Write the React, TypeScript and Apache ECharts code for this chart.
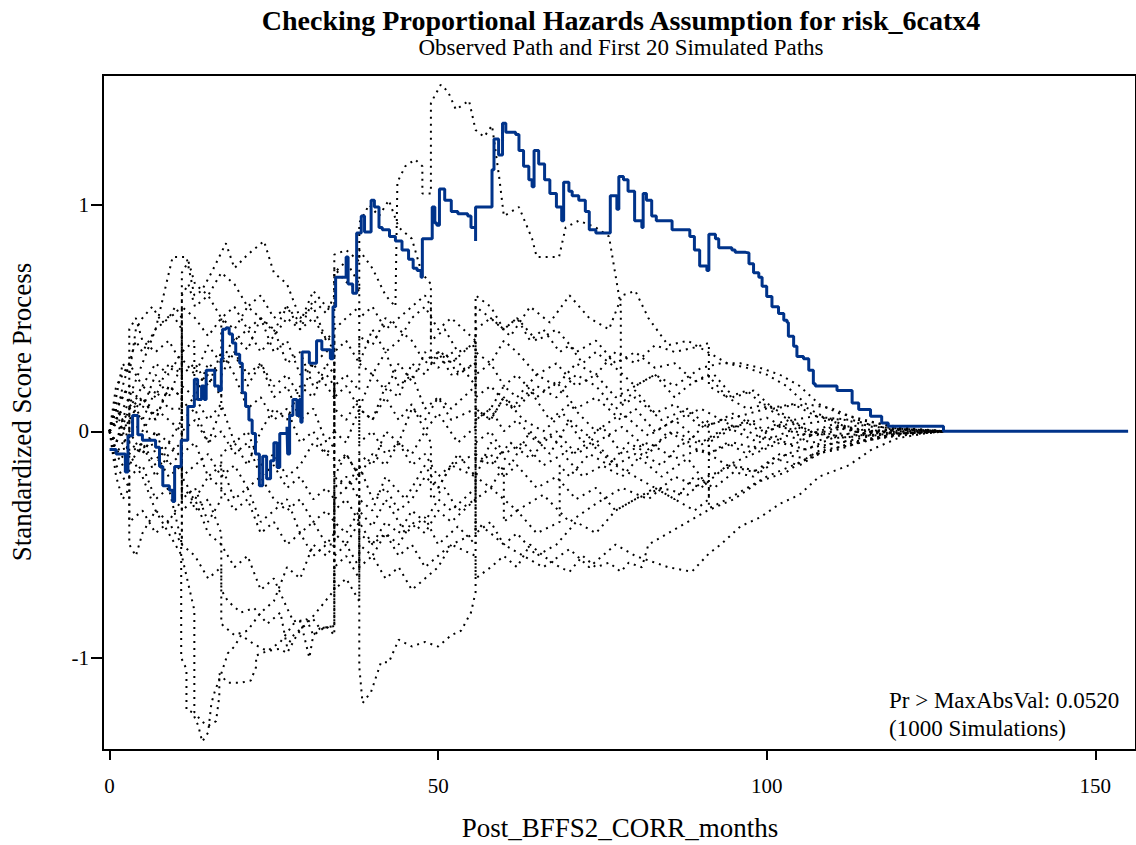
import React, { useEffect, useRef } from 'react';
import * as echarts from 'echarts';

const titleText = 'Checking Proportional Hazards Assumption for risk_6catx4';
const subtitleText = 'Observed Path and First 20 Simulated Paths';
const xAxisTitle = 'Post_BFFS2_CORR_months';
const yAxisTitle = 'Standardized Score Process';
const noteLines = ['Pr > MaxAbsVal: 0.0520', '(1000 Simulations)'];
const xTicks = [0, 50, 100, 150];
const yTicks = [-1, 0, 1];

type Pt = [number, number];

const observedPath: Pt[] = [
  [0, -0.08], [1, -0.08], [1, -0.1], [2.4, -0.1], [2.4, -0.18], [2.8, -0.02], [3.5, 0.07], [4.3, -0.015],
  [5, -0.04], [7, -0.07], [7.6, -0.155], [8.1, -0.24], [9.1, -0.26], [9.6, -0.31], [9.9, -0.155],
  [10.9, -0.04], [11.9, -0.04], [11.9, 0.11], [12.9, 0.11], [12.9, 0.23], [13.4, 0.14], [14, 0.2],
  [14.4, 0.14], [14.7, 0.27], [15.5, 0.27], [16, 0.2], [16.6, 0.18], [17, 0.32], [17.2, 0.45],
  [17.7, 0.456], [18.2, 0.43], [18.7, 0.39], [19.2, 0.34], [19.8, 0.3], [20.2, 0.17], [20.7, 0.11],
  [21.2, 0.05], [21.7, -0.01], [22.2, -0.1], [22.8, -0.24], [23.3, -0.11], [23.9, -0.21], [24.5, -0.13],
  [25, -0.05], [25.5, -0.16], [25.9, -0.01], [26.4, -0.01], [27, 0.02], [27.1, -0.1], [27.4, 0.07],
  [27.9, 0.14], [28.5, 0.07], [28.9, 0.14], [29.1, 0.04], [29.3, 0.35], [29.9, 0.35], [30.4, 0.3],
  [31.5, 0.4], [32.3, 0.36], [33.2, 0.36], [33.6, 0.32], [34, 0.55], [34.4, 0.68], [35, 0.68],
  [36, 0.77], [36.3, 0.65], [37, 0.61], [37.6, 0.875], [38.3, 0.95], [38.8, 0.88], [39.8, 1.02],
  [40.3, 0.99], [41, 0.9], [41.5, 0.89], [42.6, 0.86], [43.5, 0.84], [44.5, 0.8], [45.5, 0.76],
  [46.2, 0.72], [46.8, 0.71], [47.4, 0.68], [47.6, 0.85], [48.9, 0.85], [49.1, 0.99], [49.5, 0.92],
  [49.8, 0.91], [50.2, 1.07], [51, 1.02], [52, 0.97], [53, 0.96], [54.5, 0.95], [55, 0.9], [55.7, 0.84],
  [55.7, 0.99], [57.9, 0.99], [58.2, 1.155], [58.5, 1.29], [59.2, 1.22], [59.8, 1.36], [60.3, 1.32],
  [61.8, 1.31], [62.3, 1.24], [63, 1.17], [63.8, 1.11], [64.3, 1.08], [64.6, 1.24], [65.3, 1.18],
  [66.2, 1.11], [67, 1.05], [68, 0.99], [68.8, 0.93], [69.1, 1.1], [69.9, 1.06], [70.4, 1.04],
  [71.4, 1.02], [72.4, 0.97], [73, 0.89], [74, 0.875], [76, 0.875], [76.2, 1.04], [76.9, 1.04],
  [77.2, 0.98], [77.5, 1.125], [78.2, 1.11], [78.9, 1.06], [79.9, 0.93], [81, 0.9], [81.2, 1.05],
  [81.7, 1.02], [82.5, 0.95], [83.2, 0.93], [85, 0.93], [85.6, 0.89], [87.8, 0.89], [88.3, 0.86],
  [89, 0.8], [89.8, 0.73], [90.9, 0.71], [91.2, 0.87], [92.2, 0.85], [92.7, 0.81], [94.7, 0.8],
  [95.2, 0.79], [96.8, 0.787], [97.3, 0.74], [98, 0.7], [98.8, 0.68], [99.3, 0.64], [100, 0.595],
  [100.8, 0.55], [101.8, 0.52], [102.6, 0.49], [103.1, 0.48], [103.3, 0.42], [104.1, 0.375],
  [104.6, 0.33], [105.6, 0.32], [106.4, 0.27], [107.1, 0.21], [107.4, 0.2], [110.4, 0.2], [110.7, 0.18],
  [112.7, 0.18], [113, 0.125], [114, 0.096], [115.5, 0.096], [115.8, 0.066], [117.3, 0.066],
  [117.5, 0.037], [118.5, 0.022], [126.6, 0.022], [126.9, 0], [155, 0],
];

const sim01: Pt[] = [[0,0],[1.5,0.08],[3,-0.05],[3,0.12],[5,0.05],[7,0.18],[9,0.1],[11,0.1],[11,0.32],[13,0.25],[15,0.38],[17,0.3],[19,0.42],[21,0.36],[23,0.5],[25,0.44],[27,0.55],[29,0.48],[31,0.62],[33,0.55],[34.2,0.55],[34.2,0.72],[36,0.66],[38,0.62],[38,0.8],[40,0.72],[42,0.6],[43.5,0.55],[43.8,1.1],[45,1.17],[46.5,1.2],[47.6,1.17],[47.6,1.05],[48.9,1.05],[48.9,1.45],[50.4,1.53],[51.5,1.5],[52.7,1.42],[54.7,1.46],[55.7,1.33],[57,1.3],[58.2,1.35],[59.3,1.12],[60,0.95],[62.3,0.99],[64.3,0.85],[65,0.77],[68.4,0.77],[69.4,0.9],[71.4,0.93],[74,0.9],[76,0.86],[77.8,0.55],[77.8,0.12],[80,0.18],[83,0.08],[86,0.12],[90,0.02],[95,0.06],[100,0.1],[105,0.03],[110,0.05],[115,-0.02],[120,0.01],[125,0.005],[127,0]];
const sim02: Pt[] = [[0,0],[1,-0.05],[3,0.15],[5,0.3],[7,0.45],[9.6,0.77],[11.7,0.77],[12.9,0.6],[14,0.62],[15.5,0.7],[17.7,0.83],[19,0.72],[21,0.78],[23.5,0.84],[25,0.7],[27,0.65],[29,0.5],[31,0.55],[33,0.4],[34.2,0.42],[34.2,0.15],[36,0.2],[38,0.1],[40,0.25],[42,0.18],[44,0.3],[46,0.22],[48,0.35],[50,0.28],[52,0.35],[55.7,0.2],[55.7,0.45],[58,0.5],[61,0.42],[64,0.55],[67,0.48],[70,0.6],[73,0.5],[76,0.45],[78,0.6],[80,0.62],[82,0.5],[85,0.38],[88,0.4],[91,0.35],[94,0.3],[97,0.28],[100,0.25],[103,0.2],[106,0.12],[110,0.1],[114,0.05],[118,0.03],[122,0.01],[127,0]];
const sim03: Pt[] = [[0,0],[1,-0.1],[2,-0.05],[3,-0.2],[5,-0.15],[7,-0.3],[9,-0.25],[10.9,-0.48],[10.9,-1.0],[11.7,-1.05],[11.7,-1.23],[12.6,-1.24],[13.5,-1.3],[14.1,-1.37],[15,-1.33],[15.5,-1.2],[16,-1.15],[17,-1.07],[18,-0.98],[19,-0.95],[20,-0.9],[22,-0.94],[24,-0.97],[26,-0.93],[28,-0.85],[30,-0.83],[31,-0.9],[33,-0.86],[34.2,-0.9],[34.2,-0.55],[36,-0.5],[38,-0.6],[38,-0.3],[40,-0.35],[42,-0.2],[45,-0.3],[48,-0.15],[50,-0.25],[53,-0.1],[55.7,-0.2],[58,-0.05],[61,-0.15],[64,0.0],[67,-0.1],[70,0.05],[74,-0.05],[78,0.02],[82,-0.08],[86,0.0],[90,-0.06],[95,0.03],[100,-0.04],[105,0.02],[110,-0.03],[115,0.01],[120,-0.01],[127,0]];
const sim04: Pt[] = [[0,0],[1.5,0.05],[3,-0.1],[5,-0.2],[7,-0.35],[9,-0.45],[11,-0.55],[12.9,-0.79],[12.9,-1.24],[14,-1.28],[15,-1.3],[16.2,-1.28],[16.7,-1.17],[16.7,-1.07],[18,-1.11],[20,-1.11],[21.5,-1.1],[22.3,-1.04],[22.3,-0.99],[24,-0.97],[26,-0.96],[27,-0.98],[28.5,-0.9],[30,-0.84],[31,-0.83],[32,-0.87],[34.2,-0.86],[34.2,-0.4],[36,-0.45],[38,-0.35],[40,-0.42],[42,-0.3],[45,-0.45],[48,-0.38],[50,-0.5],[53,-0.42],[55.7,-0.5],[55.7,-0.3],[58,-0.25],[62,-0.35],[66,-0.28],[70,-0.4],[74,-0.32],[78,-0.25],[82,-0.3],[86,-0.2],[90,-0.25],[94,-0.15],[98,-0.18],[102,-0.1],[106,-0.12],[110,-0.05],[115,-0.04],[120,-0.01],[127,0]];
const sim05: Pt[] = [[0,0],[1,0.1],[3,0.05],[5,0.15],[7,0.05],[9,0.2],[11,0.15],[11,-0.1],[13,-0.05],[15,-0.2],[17,-0.15],[19,-0.3],[21,-0.25],[23,-0.4],[25,-0.35],[27,-0.3],[29,-0.45],[31,-0.4],[33,-0.5],[34.2,-0.5],[34.2,-0.25],[36,-0.2],[38,-0.3],[38,-1.04],[38.5,-1.2],[39.8,-1.15],[41.3,-1.02],[42.5,-1.02],[44,-0.92],[46,-0.95],[48,-0.93],[50,-0.95],[52,-0.9],[53.5,-0.88],[55,-0.8],[55.7,-0.71],[55.7,-0.4],[58,-0.45],[60,-0.5],[63,-0.55],[66,-0.6],[70,-0.52],[73,-0.6],[77,-0.5],[80,-0.55],[83,-0.58],[85,-0.6],[88.6,-0.62],[91.2,-0.54],[93,-0.5],[96,-0.42],[99,-0.38],[102,-0.32],[105,-0.28],[108,-0.2],[112.5,-0.15],[116,-0.08],[120,-0.03],[124,-0.01],[127,0]];
const sim06: Pt[] = [[0,0],[1,-0.05],[3,0.1],[5,0.2],[7,0.15],[9,0.3],[11,0.25],[11,0.55],[13,0.5],[15,0.42],[17,0.5],[19,0.4],[21,0.45],[23,0.35],[25,0.42],[27,0.5],[29,0.45],[31,0.58],[33,0.52],[34.2,0.6],[34.2,0.78],[36,0.8],[38,0.75],[38,0.92],[39.5,1.0],[41,0.95],[42.5,1.02],[44,0.9],[46,0.85],[47.5,0.7],[48.9,0.65],[48.9,0.4],[51,0.45],[53,0.35],[55.7,0.38],[55.7,0.15],[58,0.2],[61,0.1],[64,0.18],[67,0.05],[70,0.12],[74,0.0],[78,0.08],[82,-0.02],[86,0.05],[90,0.1],[95,0.02],[100,0.06],[105,-0.02],[110,0.03],[115,0.0],[120,0.01],[127,0]];
const sim07: Pt[] = [[0,0],[1,0.1],[3,0.2],[5,0.1],[7,0.25],[9,0.15],[11,0.3],[11,0.05],[13,0.1],[15,-0.05],[17,0.0],[19,-0.1],[21,-0.05],[23,-0.2],[25,-0.15],[27,-0.25],[29,-0.2],[31,-0.3],[33,-0.25],[34.2,-0.3],[34.2,-0.45],[36,-0.5],[38,-0.4],[40,-0.5],[42,-0.45],[44,-0.55],[46,-0.5],[48,-0.6],[50,-0.55],[52,-0.5],[55.7,-0.55],[55.7,-0.65],[58,-0.6],[60,-0.55],[62,-0.6],[64,-0.5],[66,-0.55],[68.5,-0.6],[70,-0.62],[72,-0.55],[74,-0.6],[76,-0.58],[77.8,-0.62],[79,-0.58],[81,-0.6],[82,-0.5],[85,-0.45],[88,-0.4],[91,-0.35],[95,-0.3],[99,-0.22],[103,-0.18],[107,-0.1],[111,-0.08],[115,-0.04],[120,-0.02],[127,0]];
const sim08: Pt[] = [[0,0],[1,-0.15],[3,-0.25],[3,0.1],[5,0.15],[7,0.05],[9,0.2],[11,0.15],[11,-0.3],[13,-0.25],[15,-0.4],[17,-0.3],[17,-0.1],[19,-0.05],[21,-0.15],[23,0.0],[25,0.1],[27,0.05],[29,0.2],[31,0.15],[33,0.3],[34.2,0.25],[34.2,0.0],[36,-0.05],[38,0.1],[40,0.05],[42,0.2],[44,0.15],[46,0.3],[48,0.25],[50,0.35],[52,0.3],[55.7,0.4],[55.7,0.6],[58,0.55],[60,0.45],[62,0.5],[64,0.4],[66,0.45],[68.5,0.35],[70,0.38],[72,0.3],[74,0.35],[77,0.28],[80,0.2],[83,0.25],[86,0.15],[88,0.2],[91,0.25],[94,0.15],[97,0.1],[100,0.12],[104,0.05],[108,0.07],[112,0.02],[116,0.03],[120,0.0],[127,0]];
const sim09: Pt[] = [[0,0],[1,0.05],[2,0.2],[3,0.3],[4,0.4],[5,0.35],[7,0.45],[9,0.5],[10,0.55],[11,0.5],[11,0.1],[13,0.15],[15,0.05],[17,0.12],[19,-0.05],[21,0.0],[23,-0.15],[25,-0.1],[27,-0.2],[29,-0.15],[31,-0.05],[33,-0.1],[34.2,-0.12],[34.2,0.2],[36,0.25],[38,0.18],[38,0.42],[40,0.38],[42,0.5],[44,0.45],[46,0.4],[48,0.3],[50,0.35],[52,0.25],[55.7,0.3],[55.7,0.05],[58,0.1],[60,0.2],[62,0.15],[65,0.25],[68,0.2],[71,0.3],[74,0.25],[77,0.35],[80,0.3],[83,0.38],[86,0.35],[89,0.37],[91.2,0.39],[91.2,0.2],[94,0.15],[97,0.18],[100,0.1],[104,0.12],[108,0.06],[112,0.05],[116,0.02],[121,0.01],[127,0]];
const sim10: Pt[] = [[0,0],[1,-0.1],[3,-0.2],[3,-0.4],[5,-0.35],[7,-0.45],[9,-0.4],[11,-0.5],[11,-0.25],[13,-0.3],[15,-0.45],[17,-0.5],[19,-0.6],[21,-0.55],[23,-0.7],[25,-0.65],[27,-0.78],[28,-0.84],[29,-0.83],[30.4,-1.0],[31,-0.9],[32,-0.87],[34.2,-0.86],[34.2,-0.6],[36,-0.55],[38,-0.65],[38,-0.45],[40,-0.5],[42,-0.4],[44,-0.45],[46,-0.35],[48,-0.4],[50,-0.3],[52,-0.35],[55.7,-0.25],[55.7,-0.1],[58,-0.15],[61,-0.05],[64,-0.12],[67,-0.02],[70,-0.1],[73,-0.05],[77,-0.15],[80,-0.1],[84,-0.2],[88,-0.12],[91.2,-0.25],[91.2,-0.34],[94,-0.3],[97,-0.25],[100,-0.2],[104,-0.15],[108,-0.1],[112,-0.06],[116,-0.03],[120,-0.01],[127,0]];
const sim11: Pt[] = [[0,0],[1,0.15],[2,0.3],[3,0.25],[4,0.45],[5,0.5],[6.5,0.55],[8,0.48],[9.5,0.52],[11,0.45],[11,-0.2],[12,-0.25],[13,-0.35],[15,-0.3],[17,-0.45],[17,-0.7],[18,-0.75],[20,-0.8],[22,-0.78],[24,-0.85],[26,-0.8],[27,-0.95],[28,-0.9],[30,-0.85],[32,-0.78],[34.2,-0.7],[34.2,-0.3],[36,-0.25],[38,-0.2],[38,0.1],[40,0.05],[42,0.15],[44,0.05],[46,0.12],[48,0.0],[50,0.08],[53,-0.05],[55.7,0.02],[55.7,0.25],[58,0.3],[60,0.2],[62,0.25],[65,0.15],[68,0.22],[71,0.1],[74,0.15],[77.8,0.05],[80,0.1],[83,0.0],[86,0.05],[90,-0.05],[94,0.02],[98,-0.04],[102,0.03],[106,-0.02],[110,0.02],[115,-0.01],[120,0.005],[127,0]];
const sim12: Pt[] = [[0,0],[1,0.1],[3,0.0],[5,-0.1],[7,0.0],[9,-0.15],[11,-0.1],[11,0.35],[12.9,0.4],[12.9,0.2],[15,0.25],[17,0.15],[17,0.5],[19,0.45],[21,0.55],[23,0.5],[25,0.45],[27,0.3],[29,0.35],[31,0.2],[33,0.25],[34.2,0.2],[34.2,-0.2],[36,-0.25],[38,-0.15],[40,-0.3],[42,-0.25],[44,-0.35],[46,-0.3],[48,-0.2],[50,-0.25],[52,-0.15],[55.7,-0.2],[55.7,-0.45],[58,-0.4],[60,-0.5],[62,-0.45],[65,-0.55],[68,-0.5],[71,-0.4],[74,-0.45],[77,-0.35],[80,-0.3],[84,-0.25],[88,-0.28],[91,-0.2],[95,-0.15],[99,-0.18],[103,-0.1],[107,-0.07],[111,-0.05],[116,-0.02],[120,-0.01],[127,0]];
const sim13: Pt[] = [[0,0],[1,-0.08],[3,-0.15],[5,-0.05],[7,-0.2],[9,-0.1],[11,-0.05],[11,0.2],[13,0.15],[15,0.3],[17,0.25],[19,0.35],[21,0.2],[23,0.3],[25,0.15],[27,0.2],[29,0.05],[31,0.1],[33,-0.05],[34.2,0.0],[34.2,0.35],[36,0.4],[38,0.3],[40,0.45],[42,0.35],[44,0.4],[46,0.5],[48,0.55],[50,0.45],[52,0.5],[55.7,0.4],[55.7,0.1],[58,0.05],[60,0.15],[63,0.05],[66,0.0],[69,0.08],[72,-0.05],[75,0.02],[78,-0.1],[82,-0.05],[86,-0.12],[90,-0.08],[94,-0.15],[98,-0.1],[102,-0.05],[106,-0.08],[110,-0.03],[115,-0.02],[120,0.0],[127,0]];
const sim14: Pt[] = [[0,0],[1,0.05],[3,-0.1],[5,-0.05],[7,-0.15],[9,-0.05],[11,-0.12],[11,-0.35],[13,-0.3],[15,-0.2],[17,-0.25],[19,-0.35],[21,-0.3],[23,-0.45],[25,-0.4],[27,-0.5],[29,-0.45],[31,-0.55],[33,-0.5],[34.2,-0.45],[34.2,-0.15],[36,-0.1],[38,-0.2],[38,-0.6],[40,-0.55],[42,-0.65],[44,-0.6],[46,-0.7],[48,-0.65],[50,-0.6],[52,-0.5],[55.7,-0.45],[55.7,-0.2],[58,-0.25],[60,-0.15],[60,-0.4],[62,-0.35],[65,-0.45],[68.5,-0.4],[68.5,-0.15],[70,-0.2],[73,-0.1],[76,-0.15],[79,-0.05],[82,-0.1],[85,0.0],[88,-0.05],[91.2,0.05],[91.2,-0.1],[94,-0.05],[97,-0.1],[100,-0.02],[104,-0.06],[108,0.0],[112,-0.03],[116,0.0],[120,-0.01],[127,0]];
const sim15: Pt[] = [[0,0],[1,0.12],[3,0.2],[3,-0.05],[5,-0.1],[7,0.0],[9,-0.05],[11,0.05],[11,0.25],[13,0.3],[15,0.2],[17,0.35],[19,0.25],[21,0.1],[23,0.15],[25,0.05],[27,0.1],[29,-0.05],[31,0.0],[33,-0.1],[34.2,-0.05],[34.2,-0.35],[36,-0.3],[38,-0.4],[38,-0.1],[40,-0.15],[42,0.0],[44,-0.05],[46,0.1],[48,0.05],[50,0.15],[52,0.1],[55.7,0.2],[55.7,0.35],[58,0.3],[60,0.4],[62,0.35],[65,0.25],[68,0.3],[71,0.2],[74,0.25],[77,0.15],[80,0.2],[83,0.25],[86,0.2],[90,0.28],[93,0.3],[96,0.3],[99,0.28],[102,0.25],[105,0.2],[108,0.12],[111,0.08],[115,0.05],[119,0.02],[123,0.01],[127,0]];
const sim16: Pt[] = [[0,0],[1,-0.2],[2,-0.3],[3,-0.25],[3,-0.5],[4,-0.55],[5,-0.45],[7,-0.35],[9,-0.4],[11,-0.3],[11,0.0],[13,0.05],[15,-0.05],[17,0.1],[17,0.3],[19,0.35],[21,0.25],[23,0.3],[25,0.2],[27,0.25],[29,0.15],[31,0.3],[33,0.35],[34.2,0.4],[34.2,0.1],[36,0.05],[38,0.15],[38,-0.05],[40,0.0],[42,-0.1],[44,-0.05],[46,-0.15],[48,-0.1],[50,-0.2],[52,-0.15],[55.7,-0.1],[55.7,0.1],[58,0.05],[60,0.15],[62,0.1],[65,0.2],[68,0.15],[71,0.25],[74,0.2],[77,0.1],[80,0.15],[84,0.05],[88,0.1],[91,0.02],[95,0.08],[99,0.0],[103,0.05],[107,-0.02],[111,0.02],[115,-0.01],[120,0.01],[127,0]];
const sim17: Pt[] = [[0,0],[1,0.05],[3,0.15],[5,0.05],[7,-0.1],[9,-0.2],[11,-0.15],[11,-0.5],[13,-0.55],[15,-0.65],[17,-0.6],[17,-0.85],[19,-0.9],[21,-0.88],[23,-0.8],[25,-0.75],[27,-0.6],[29,-0.65],[31,-0.5],[33,-0.55],[34.2,-0.5],[34.2,-0.2],[36,-0.1],[38,-0.2],[40,-0.1],[42,-0.15],[44,-0.05],[46,-0.1],[48,0.0],[48.9,-0.05],[48.9,-0.3],[51,-0.25],[53,-0.35],[55.7,-0.3],[55.7,-0.05],[58,0.0],[60,-0.1],[63,-0.05],[66,-0.15],[69,-0.1],[72,-0.2],[75,-0.15],[78,-0.2],[81,-0.1],[84,-0.15],[87,-0.05],[91,-0.1],[95,-0.05],[99,-0.08],[103,-0.02],[107,-0.05],[111,-0.01],[116,-0.02],[121,0.0],[127,0]];
const sim18: Pt[] = [[0,0],[1,0.2],[2,0.25],[3,0.3],[5,0.2],[7,0.3],[9,0.25],[11,0.35],[11,0.6],[12,0.65],[13,0.55],[15,0.6],[17,0.5],[19,0.55],[21,0.45],[23,0.5],[25,0.35],[27,0.4],[29,0.25],[31,0.3],[33,0.2],[34.2,0.15],[34.2,0.45],[36,0.5],[38,0.55],[38,0.3],[40,0.25],[42,0.35],[44,0.2],[46,0.25],[48,0.1],[50,0.15],[52,0.05],[55.7,0.1],[55.7,-0.15],[58,-0.1],[60,-0.2],[62,-0.15],[65,-0.25],[68,-0.2],[71,-0.3],[74,-0.25],[77,-0.35],[80,-0.3],[83,-0.25],[86,-0.3],[89,-0.2],[92,-0.25],[95,-0.18],[98,-0.2],[101,-0.12],[105,-0.15],[109,-0.08],[113,-0.06],[117,-0.03],[121,-0.01],[127,0]];
const sim19: Pt[] = [[0,0],[1,-0.05],[3,0.05],[5,0.0],[7,0.1],[9,0.05],[11,0.0],[11,-0.2],[13,-0.15],[15,-0.1],[17,-0.2],[19,-0.15],[21,-0.25],[23,-0.2],[25,-0.3],[27,-0.35],[29,-0.3],[31,-0.4],[33,-0.35],[34.2,-0.4],[34.2,-0.7],[36,-0.65],[38,-0.75],[38,-0.5],[40,-0.55],[42,-0.45],[44,-0.5],[46,-0.4],[48,-0.45],[50,-0.35],[52,-0.4],[55.7,-0.3],[55.7,0.05],[58,0.1],[60,0.0],[62,0.05],[65,-0.05],[68,0.0],[71,-0.1],[74,-0.05],[77,-0.15],[80,-0.2],[83,-0.25],[86,-0.3],[89,-0.35],[91.2,-0.3],[91.2,-0.05],[94,0.0],[97,0.05],[100,0.0],[104,0.04],[108,-0.02],[112,0.02],[116,0.0],[120,0.01],[127,0]];
const sim20: Pt[] = [[0,0],[1,0.1],[3,0.2],[3,0.45],[4,0.5],[5,0.4],[7,0.35],[9,0.4],[11,0.3],[11,0.7],[12,0.75],[13,0.65],[15,0.6],[17,0.7],[19,0.65],[21,0.55],[23,0.6],[25,0.5],[27,0.55],[29,0.45],[31,0.5],[33,0.4],[34.2,0.45],[34.2,0.7],[36,0.75],[38,0.65],[38,0.5],[40,0.55],[42,0.45],[44,0.5],[46,0.55],[48,0.6],[48.9,0.55],[48.9,0.3],[51,0.35],[53,0.25],[55.7,0.3],[55.7,0.55],[58,0.5],[60,0.45],[62,0.5],[65,0.4],[68,0.45],[71,0.35],[74,0.4],[77,0.3],[80,0.35],[83,0.28],[86,0.3],[89,0.22],[92,0.25],[95,0.15],[98,0.18],[101,0.1],[105,0.12],[109,0.06],[113,0.05],[117,0.02],[121,0.01],[127,0]];

const simulatedPaths: Pt[][] = [
  sim01, sim02, sim03, sim04, sim05, sim06, sim07, sim08, sim09, sim10,
  sim11, sim12, sim13, sim14, sim15, sim16, sim17, sim18, sim19, sim20,
];

const FONT = '"Liberation Serif", "Times New Roman", Times, serif';

export default function App() {
  const ref = useRef<HTMLDivElement>(null);

  useEffect(() => {
    if (!ref.current) return;
    const chart = echarts.init(ref.current, undefined, { renderer: 'svg' });

    const simSeries = simulatedPaths.map((path, i) => ({
      name: 'sim' + (i + 1),
      type: 'line',
      data: path,
      showSymbol: false,
      symbol: 'none',
      silent: true,
      clip: true,
      z: 2,
      lineStyle: { color: '#000', width: 2, type: [2, 5], cap: 'butt' },
    }));

    const option: any = {
      animation: false,
      backgroundColor: '#fff',
      grid: {
        left: 103, top: 75, width: 1035, height: 675,
        show: true, borderColor: '#000', borderWidth: 2, backgroundColor: 'transparent',
      },
      xAxis: {
        type: 'value', min: -1, max: 156.2,
        splitLine: { show: false },
        axisLine: { show: true, onZero: false, lineStyle: { color: '#000', width: 2 } },
        axisTick: { show: true, length: 10, lineStyle: { color: '#000', width: 2 }, customValues: xTicks },
        axisLabel: { customValues: xTicks, margin: 25, fontFamily: FONT, fontSize: 21, color: '#000' },
      },
      yAxis: {
        type: 'value', min: -1.407, max: 1.573,
        splitLine: { show: false },
        axisLine: { show: true, onZero: false, lineStyle: { color: '#000', width: 2 } },
        axisTick: { show: true, length: 12, lineStyle: { color: '#000', width: 2 }, customValues: yTicks },
        axisLabel: { customValues: yTicks, margin: 14, fontFamily: FONT, fontSize: 21, color: '#000' },
      },
      series: [
        ...simSeries,
        {
          name: 'observed', type: 'line', data: observedPath, step: 'end',
          showSymbol: false, symbol: 'none', silent: true, z: 5,
          lineStyle: { color: '#00338a', width: 3 },
        },
      ],
      graphic: [
        { type: 'text', x: 621, y: 20.5, style: { text: titleText, font: `bold 28px ${FONT}`, fill: '#000', textAlign: 'center', textVerticalAlign: 'middle', align: 'center', verticalAlign: 'middle' } },
        { type: 'text', x: 621, y: 47.5, style: { text: subtitleText, font: `23px ${FONT}`, fill: '#000', textAlign: 'center', textVerticalAlign: 'middle', align: 'center', verticalAlign: 'middle' } },
        { type: 'text', x: 620, y: 828, style: { text: xAxisTitle, font: `27px ${FONT}`, fill: '#000', textAlign: 'center', textVerticalAlign: 'middle', align: 'center', verticalAlign: 'middle' } },
        { type: 'text', x: 22, y: 412, rotation: Math.PI / 2, style: { text: yAxisTitle, font: `27px ${FONT}`, fill: '#000', textAlign: 'center', textVerticalAlign: 'middle', align: 'center', verticalAlign: 'middle' } },
        { type: 'text', x: 889, y: 700.5, style: { text: noteLines[0], font: `23px ${FONT}`, fill: '#000', textAlign: 'left', textVerticalAlign: 'middle', align: 'left', verticalAlign: 'middle' } },
        { type: 'text', x: 889, y: 728, style: { text: noteLines[1], font: `23px ${FONT}`, fill: '#000', textAlign: 'left', textVerticalAlign: 'middle', align: 'left', verticalAlign: 'middle' } },
      ],
    };

    chart.setOption(option);
    return () => chart.dispose();
  }, []);

  return (
    <div
      ref={ref}
      style={{ position: 'fixed', left: 0, top: 0, width: 1136, height: 845, background: '#fff' }}
    />
  );
}
